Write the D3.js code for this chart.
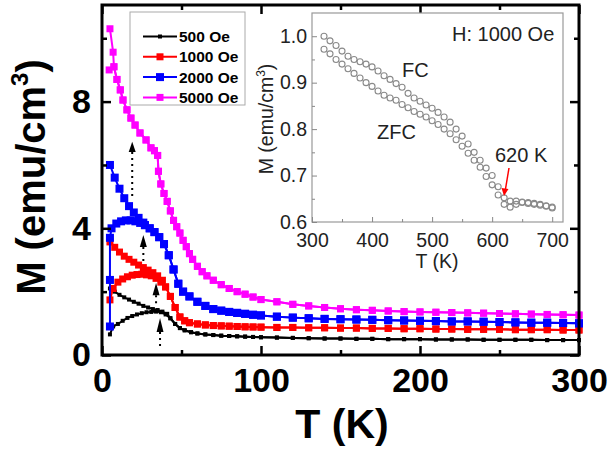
<!DOCTYPE html>
<html><head><meta charset="utf-8">
<script src="https://cdn.jsdelivr.net/npm/d3@7"></script>
<style>body{margin:0;background:#fff}svg{display:block}</style>
</head><body>
<svg id="c" width="612" height="449"></svg>
<script>
// ---------------- DATA ----------------
const seriesNames = ["500 Oe","1000 Oe","2000 Oe","5000 Oe"];
const seriesColors = ["#000000","#ff0000","#0000ff","#ff00ff"];

// high-temperature part (shared by FC and ZFC)
const T_hi = [100,110,120,130,140,150,160,170,180,190,200,210,220,230,240,250,260,270,280,290,300];
const black_hi = [0.56,0.55,0.54,0.53,0.52,0.52,0.51,0.51,0.50,0.50,0.50,0.49,0.49,0.49,0.48,0.48,0.48,0.48,0.47,0.47,0.47];
const red_hi   = [0.88,0.87,0.87,0.86,0.86,0.85,0.85,0.84,0.84,0.83,0.83,0.82,0.82,0.81,0.81,0.81,0.80,0.80,0.80,0.79,0.79];
const blue_hi  = [1.25,1.21,1.18,1.16,1.14,1.13,1.12,1.11,1.10,1.09,1.08,1.07,1.06,1.06,1.05,1.04,1.03,1.02,1.02,1.01,1.00];
const mag_hi   = [1.75,1.68,1.60,1.55,1.50,1.46,1.43,1.41,1.39,1.37,1.36,1.35,1.34,1.33,1.32,1.31,1.30,1.29,1.28,1.27,1.26];

// 500 Oe
const black_zfc_T = [5,7,10,13,16,19,22,25,28,31,34,37,40,43,46,49,52,56,60,65,70,75,80,85,90,95];
const black_zfc_M = [0.65,0.90,0.98,1.08,1.17,1.23,1.28,1.32,1.35,1.36,1.37,1.35,1.28,1.16,0.98,0.85,0.78,0.72,0.68,0.65,0.63,0.61,0.60,0.59,0.58,0.57];
const black_fc_T = [5,8,11,14,17,20,23,26,29,32,35,38,41];
const black_fc_M = [2.10,2.00,1.90,1.82,1.75,1.68,1.62,1.55,1.50,1.45,1.42,1.37,1.30];
// 1000 Oe
const red_zfc_T = [5,7,10,13,16,19,22,25,28,31,34,37,40,43,46,49,52,55,60,65,70,75,80,85,90,95];
const red_zfc_M = [1.74,2.10,2.30,2.40,2.47,2.52,2.54,2.55,2.53,2.50,2.42,2.30,2.15,1.85,1.50,1.20,1.08,1.02,0.98,0.95,0.93,0.92,0.91,0.90,0.89,0.885];
const red_fc_T = [5,8,11,14,17,20,23,26,29,32,35,38];
const red_fc_M = [3.57,3.40,3.25,3.12,3.02,2.93,2.84,2.76,2.68,2.60,2.50,2.36];
// 2000 Oe
const blue_zfc_T = [5,5,5,6,9,12,15,18,21,24,27,30,33,36,39,42,45,48,51,55,60,65,70,75,80,85,90,95];
const blue_zfc_M = [0.90,2.37,3.70,4.00,4.15,4.22,4.25,4.25,4.22,4.17,4.10,4.00,3.88,3.72,3.50,3.15,2.70,2.25,2.00,1.85,1.68,1.55,1.45,1.40,1.36,1.33,1.30,1.27];
const blue_fc_T = [5,8,11,14,17,20,23,26];
const blue_fc_M = [6.00,5.60,5.25,4.95,4.70,4.50,4.33,4.18];
// 5000 Oe
const mag_zfc_T = [4.5,7.5,9.4,11.5,13.2,15.7,18.2,20.8,23.9,27.7,30.8,33,35,35.5,37,39,41,43,45,47,49,51,53,55,57,60,63,66,70,75,80,85,90,95];
const mag_zfc_M = [9.00,9.10,8.70,8.37,8.05,7.74,7.48,7.26,7.01,6.79,6.54,6.45,6.30,5.80,5.40,5.10,4.85,4.55,4.25,4.05,3.85,3.62,3.42,3.20,3.02,2.80,2.63,2.50,2.36,2.22,2.10,2.00,1.92,1.83];
const mag_fc_T = [5,7];
const mag_fc_M = [10.30,9.56];

// arrows (T, tip M, base M, dotted-line end M)
const arrowT    = [19, 26, 34, 36.5];
const arrowTip  = [6.73, 3.79, 2.27, 1.17];
const arrowBase = [6.41, 3.41, 1.89, 0.73];
const arrowEnd  = [4.90, 2.84, 1.58, 0.16];

// ticks
const xMajor = [0,100,200,300], xMinor = [50,150,250];
const yMajor = [0,4,8], yMinor = [2,6,10];

// inset: H = 1000 Oe, high temperature
const inset_T = [320,330,340,350,360,370,380,390,400,410,420,430,440,450,460,470,480,490,500,510,520,530,540,550,560,570,580,590,600,610,620,630,640,650,660,670,680,690,700];
const inset_FC = [1.000,0.990,0.980,0.968,0.957,0.950,0.945,0.940,0.934,0.925,0.915,0.907,0.898,0.890,0.877,0.867,0.860,0.852,0.845,0.836,0.826,0.815,0.800,0.785,0.768,0.750,0.733,0.716,0.700,0.676,0.652,0.645,0.645,0.643,0.642,0.640,0.638,0.635,0.632];
const inset_ZFC = [0.972,0.962,0.950,0.940,0.930,0.920,0.910,0.900,0.892,0.882,0.873,0.867,0.862,0.853,0.846,0.838,0.832,0.826,0.818,0.810,0.800,0.790,0.777,0.763,0.748,0.733,0.718,0.698,0.680,0.658,0.638,0.632,0.638,0.642,0.640,0.638,0.636,0.634,0.630];
const insetXMajor = [300,400,500,600,700], insetXMinor = [350,450,550,650];
const insetYMajor = [0.6,0.7,0.8,0.9,1.0], insetYMinor = [0.65,0.75,0.85,0.95,1.05];

// ---------------- DRAW ----------------
const svg = d3.select("#c");
const FONT = "'Liberation Sans', Arial, sans-serif";
const x = d3.scaleLinear().domain([0,300]).range([102,579]);
const y = d3.scaleLinear().domain([0,11.05]).range([355,5]);

function zip(T,M){ return T.map((t,i)=>({T:t,M:M[i]})); }
function hi(M){ return zip(T_hi,M); }
function build(zT,zM,fT,fM,hiM){
  const zfc = zip(zT,zM).concat(hi(hiM));
  const lastF = fT[fT.length-1];
  const fc = zip(fT,fM).concat(zfc.filter(d=>d.T>lastF));
  return {zfc, fc};
}
const data = [
  build(black_zfc_T,black_zfc_M,black_fc_T,black_fc_M,black_hi),
  build(red_zfc_T,red_zfc_M,red_fc_T,red_fc_M,red_hi),
  build(blue_zfc_T,blue_zfc_M,blue_fc_T,blue_fc_M,blue_hi),
  build(mag_zfc_T,mag_zfc_M,mag_fc_T,mag_fc_M,mag_hi)
];
const markerSize = [4,7,8,7];

const line = d3.line().x(d=>x(d.T)).y(d=>y(d.M));
const gData = svg.append("g");
data.forEach((s,i)=>{
  const g = gData.append("g");
  [s.zfc, s.fc].forEach(arr=>{
    g.append("path").datum(arr).attr("d",line).attr("fill","none")
      .attr("stroke",seriesColors[i]).attr("stroke-width",2);
  });
  const pts = s.fc.concat(s.zfc);
  const m = markerSize[i];
  g.selectAll("rect").data(pts).join("rect")
    .attr("x",d=>x(d.T)-m/2).attr("y",d=>y(d.M)-m/2)
    .attr("width",m).attr("height",m).attr("fill",seriesColors[i]);
});

// arrows
arrowT.forEach((t,i)=>{
  svg.append("line").attr("x1",x(t)).attr("x2",x(t))
    .attr("y1",y(arrowBase[i])).attr("y2",y(arrowEnd[i]))
    .attr("stroke","#000").attr("stroke-width",2).attr("stroke-dasharray","2,4");
  const xt=x(t), yt=y(arrowTip[i]), yb=y(arrowBase[i]);
  svg.append("path").attr("d",`M${xt},${yt}L${xt-3.5},${yb}L${xt+3.5},${yb}Z`).attr("fill","#000");
});

// axes
function styleAxis(g){ g.select(".domain").remove(); g.selectAll("line").attr("stroke","#000").attr("stroke-width",2.5); }
const fs = 34;
const gx = svg.append("g").attr("transform","translate(0,355)")
  .call(d3.axisBottom(x).tickValues(xMajor).tickSize(-9).tickPadding(13).tickFormat(d3.format("d")));
gx.call(styleAxis); gx.selectAll("text").attr("font-family",FONT).attr("font-size",fs).attr("font-weight","bold").attr("fill","#000");
svg.append("g").attr("transform","translate(0,355)").call(d3.axisBottom(x).tickValues(xMinor).tickSize(-5).tickFormat("")).call(styleAxis);
svg.append("g").attr("transform","translate(0,5)").call(d3.axisTop(x).tickValues(xMajor).tickSize(-9).tickFormat("")).call(styleAxis);
svg.append("g").attr("transform","translate(0,5)").call(d3.axisTop(x).tickValues(xMinor).tickSize(-5).tickFormat("")).call(styleAxis);
const gy = svg.append("g").attr("transform","translate(102,0)")
  .call(d3.axisLeft(y).tickValues(yMajor).tickSize(-9).tickPadding(11).tickFormat(d3.format("d")));
gy.call(styleAxis); gy.selectAll("text").attr("font-family",FONT).attr("font-size",fs).attr("font-weight","bold").attr("fill","#000");
svg.append("g").attr("transform","translate(102,0)").call(d3.axisLeft(y).tickValues(yMinor).tickSize(-5).tickFormat("")).call(styleAxis);
svg.append("g").attr("transform","translate(579,0)").call(d3.axisRight(y).tickValues(yMajor).tickSize(-9).tickFormat("")).call(styleAxis);
svg.append("g").attr("transform","translate(579,0)").call(d3.axisRight(y).tickValues(yMinor).tickSize(-5).tickFormat("")).call(styleAxis);

svg.append("rect").attr("x",102).attr("y",5).attr("width",477).attr("height",350)
  .attr("fill","none").attr("stroke","#000").attr("stroke-width",3);

// axis titles
svg.append("text").attr("x",342).attr("y",438).attr("text-anchor","middle")
  .attr("font-family",FONT).attr("font-size",41).attr("font-weight","bold").text("T (K)");
const yl = svg.append("text").attr("transform","translate(45,177) rotate(-90)").attr("text-anchor","middle")
  .attr("font-family",FONT).attr("font-size",40).attr("font-weight","bold");
yl.append("tspan").text("M (emu/cm");
yl.append("tspan").attr("font-size",24).attr("dy",-17).text("3");
yl.append("tspan").attr("dy",17).text(")");

// legend
const lg = svg.append("g");
lg.append("rect").attr("x",130).attr("y",12).attr("width",115).attr("height",93)
  .attr("fill","#fff").attr("stroke","#aaa").attr("stroke-width",1);
seriesNames.forEach((n,i)=>{
  const yy = 36.5 + i*20.3;
  lg.append("line").attr("x1",143).attr("x2",177).attr("y1",yy).attr("y2",yy)
    .attr("stroke",seriesColors[i]).attr("stroke-width",2);
  const m = markerSize[i];
  lg.append("rect").attr("x",160-m/2).attr("y",yy-m/2).attr("width",m).attr("height",m).attr("fill",seriesColors[i]);
  lg.append("text").attr("x",179).attr("y",yy+5.5).attr("font-family",FONT).attr("font-size",15.5)
    .attr("font-weight","bold").text(n);
});

// inset
const xi = d3.scaleLinear().domain([300,718]).range([312,563]);
const yi = d3.scaleLinear().domain([0.6,1.05]).range([222,13]);
const gi = svg.append("g");
gi.append("rect").attr("x",312).attr("y",13).attr("width",251).attr("height",209)
  .attr("fill","#fff").attr("stroke","#999").attr("stroke-width",1.2);
function styleInset(g){ g.select(".domain").remove(); g.selectAll("line").attr("stroke","#888").attr("stroke-width",1); }
const fsi = 19.5;
const gix = gi.append("g").attr("transform","translate(0,222)")
  .call(d3.axisBottom(xi).tickValues(insetXMajor).tickSize(-5).tickPadding(11).tickFormat(d3.format("d")));
gix.call(styleInset); gix.selectAll("text").attr("font-family",FONT).attr("font-size",fsi).attr("fill","#222");
gi.append("g").attr("transform","translate(0,222)").call(d3.axisBottom(xi).tickValues(insetXMinor).tickSize(-3).tickFormat("")).call(styleInset);
const giy = gi.append("g").attr("transform","translate(312,0)")
  .call(d3.axisLeft(yi).tickValues(insetYMajor).tickSize(-5).tickPadding(5).tickFormat(d3.format(".1f")));
giy.call(styleInset); giy.selectAll("text").attr("font-family",FONT).attr("font-size",fsi).attr("fill","#222");
gi.append("g").attr("transform","translate(312,0)").call(d3.axisLeft(yi).tickValues(insetYMinor.filter(v=>v<1.04)).tickSize(-3).tickFormat("")).call(styleInset);

[inset_FC, inset_ZFC].forEach(arr=>{
  gi.append("g").selectAll("circle").data(zip(inset_T,arr)).join("circle")
    .attr("cx",d=>xi(d.T)).attr("cy",d=>yi(d.M)).attr("r",3)
    .attr("fill","none").attr("stroke","#8a8a8a").attr("stroke-width",1.1);
});

gi.append("text").attr("x",437).attr("y",268).attr("text-anchor","middle")
  .attr("font-family",FONT).attr("font-size",fsi).attr("fill","#222").text("T (K)");
const yil = gi.append("text").attr("transform","translate(273,119) rotate(-90)").attr("text-anchor","middle")
  .attr("font-family",FONT).attr("font-size",fsi).attr("fill","#222");
yil.append("tspan").text("M (emu/cm");
yil.append("tspan").attr("font-size",12).attr("dy",-8).text("3");
yil.append("tspan").attr("dy",8).text(")");

gi.append("text").attr("x",452).attr("y",41).attr("font-family",FONT).attr("font-size",20).attr("fill","#222").text("H: 1000 Oe");
gi.append("text").attr("x",402).attr("y",77).attr("font-family",FONT).attr("font-size",20).attr("fill","#222").text("FC");
gi.append("text").attr("x",377).attr("y",139).attr("font-family",FONT).attr("font-size",20).attr("fill","#222").text("ZFC");
gi.append("text").attr("x",495).attr("y",162).attr("font-family",FONT).attr("font-size",20).attr("fill","#222").text("620 K");
// red arrow to 620 K
gi.append("line").attr("x1",509).attr("y1",168).attr("x2",505.5).attr("y2",189)
  .attr("stroke","#ff0000").attr("stroke-width",1.5);
gi.append("path").attr("d","M504,196L501.5,188L508.5,189Z").attr("fill","#ff0000");
</script>
</body></html>
